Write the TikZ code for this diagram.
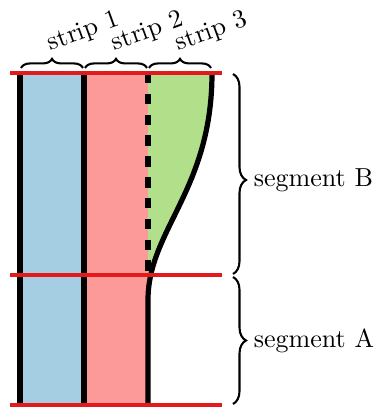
\documentclass[tikz,border=0pt]{standalone}
\usepackage{tikz}
\usetikzlibrary{decorations.pathreplacing}
\definecolor{stripblue}{HTML}{A6CEE3}
\definecolor{strippink}{HTML}{FB9A99}
\definecolor{stripgreen}{HTML}{B2DF8A}
\definecolor{cutred}{HTML}{E31A1C}

\begin{document}
\begin{tikzpicture}[
    x=0.0135cm, y=0.0135cm,
    wall/.style={line width=2pt},
    cut/.style={line width=1.2pt, cutred},
    brace/.style={decorate, decoration={brace, amplitude=#1}, thick},
    brace/.default=3.5pt,
    striplabel/.style={anchor=base west, inner sep=0pt, xshift=-0.8pt, yshift=6.5pt, rotate=20},
    seglabel/.style={right=4.3pt}
]
\useasboundingbox (0,0) rectangle (375,410);

\fill[stripblue] (20,5) rectangle (84,337);
\fill[strippink] (84,5) rectangle (148,337);
\fill[stripgreen] (148,337) -- (212,337) .. controls (212,220) and (148,180) .. (148,110) -- cycle;

\draw[wall] (20,5) -- (20,337);
\draw[wall] (84,5) -- (84,337);
\draw[wall, dash pattern=on 4pt off 4pt] (148,337) -- (148,135);
\draw[wall] (212,337) .. controls (212,220) and (148,180) .. (148,110) -- (148,5);

\draw[cut] (10,337) -- (222,337);
\draw[cut] (10,135) -- (222,135);
\draw[cut] (10,5) -- (222,5);

\draw[brace] (21,342) -- (83,342) node[midway, striplabel] (s1) {strip 1};
\draw[brace] (85,342) -- (147,342) node[midway, striplabel] (s2) {strip 2};
\draw[brace] (149,342) -- (211,342) node[midway, striplabel] (s3) {strip 3};

\draw[decorate, decoration={brace, amplitude=5pt, aspect=0.53}, thick] (233,336) -- (233,136) node[pos=0.53, seglabel] (segB) {segment B};
\draw[brace=5pt] (233,133) -- (233,6) node[midway, seglabel] (segA) {segment A};
\end{tikzpicture}
\end{document}
